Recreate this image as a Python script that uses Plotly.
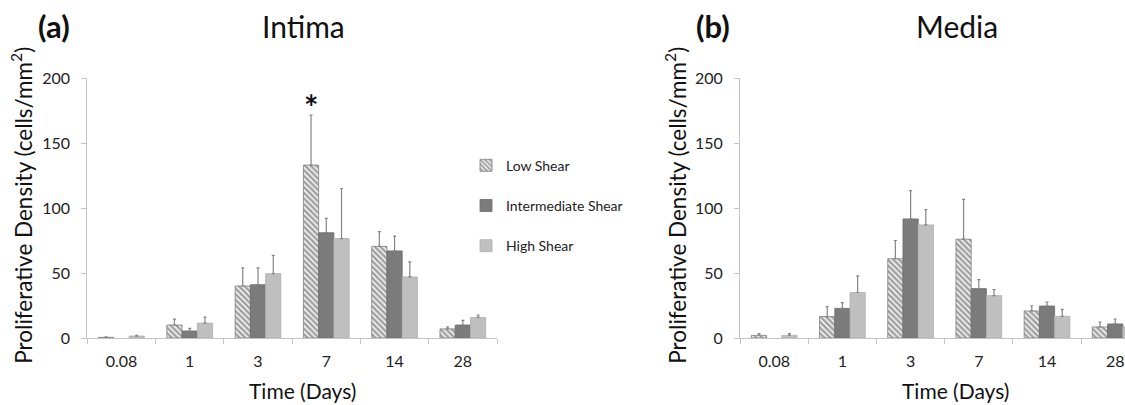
import plotly.graph_objects as go

W, H = 1125, 405

categories = ["0.08", "1", "3", "7", "14", "28"]
series = ["Low Shear", "Intermediate Shear", "High Shear"]

intima_low = [0.5, 10, 40, 133, 70.5, 7]
intima_int = [None, 5.4, 41, 81, 67, 10]
intima_high = [1.5, 11.5, 49.5, 76.5, 47, 15.8]
intima_low_err = [0.4, 4.5, 14, 38.5, 11.3, 1.5]
intima_int_err = [None, 2.0, 13, 11, 11.3, 3.5]
intima_high_err = [0.6, 4.5, 14, 38.5, 11.5, 1.9]

media_low = [2, 16.5, 61, 76, 20.8, 8.5]
media_int = [None, 22.8, 91.6, 38, 24.6, 10.8]
media_high = [2, 35, 87, 32.6, 16.7, 8.5]
media_low_err = [1.4, 7.7, 14, 30.7, 4, 3.8]
media_int_err = [None, 4.4, 21.8, 6.9, 3.1, 3.8]
media_high_err = [1.4, 12.8, 11.8, 4.6, 5.3, 3]

y_ticks = [0, 50, 100, 150, 200]

FONT = "Lato"
# pixel geometry (page coordinates)
PT, PB = 78.3, 338.3
PH = PB - PT

def px_x(p):
    return p / W

def px_y(p):
    return (PB - p) / PH

styles = [
    dict(color="#ffffff", line=dict(color="#7f7f7f", width=0.8),
         pattern=dict(shape="\\", fgcolor="#484848", bgcolor="#f2f2f2", size=4, solidity=0.55)),
    dict(color="#7b7b7b", line=dict(color="#6e6e6e", width=0.8)),
    dict(color="#bfbfbf", line=dict(color="#b0b0b0", width=0.8)),
]

fig = go.Figure()
panels = [
    ("x", "y", [intima_low, intima_int, intima_high], [intima_low_err, intima_int_err, intima_high_err], True),
    ("x2", "y2", [media_low, media_int, media_high], [media_low_err, media_int_err, media_high_err], False),
]
for xa, ya, vals, errs, show in panels:
    for i, name in enumerate(series):
        fig.add_trace(go.Bar(
            x=categories, y=vals[i], name=name, xaxis=xa, yaxis=ya,
            marker=styles[i], legendgroup=name, showlegend=show,
            error_y=dict(type="data", symmetric=False, array=errs[i],
                         arrayminus=[0 if v is not None else None for v in errs[i]],
                         color="#858585", thickness=1.2, width=1.5),
        ))

axis_common = dict(showline=True, linecolor="#c4c4c4", linewidth=1, ticks="outside",
                   tickcolor="#c4c4c4", ticklen=5, showgrid=False, zeroline=False,
                   tickfont=dict(family=FONT, size=16, color="#222222"), automargin=False)

fig.update_layout(
    width=W, height=H, plot_bgcolor="white", paper_bgcolor="white",
    margin=dict(l=0, r=0, t=PT, b=H - PB),
    barmode="group", bargap=0.33, bargroupgap=0,
    font=dict(family=FONT, color="#111111"),
    xaxis=dict(domain=[px_x(87.3), px_x(497)], range=[-0.5, 5.5], type="category",
               tickson="boundaries", ticklabelstandoff=9, anchor="y", **axis_common),
    yaxis=dict(domain=[0, 1], range=[0, 200], tickvals=y_ticks, ticklabelstandoff=8,
               anchor="x", **axis_common),
    xaxis2=dict(domain=[px_x(740.1), 1.0], range=[-0.5, 5.5 - (1149.3 - W) / 68.2],
                type="category", tickson="boundaries", ticklabelstandoff=9, anchor="y2",
                ticklabeloverflow="allow", **axis_common),
    yaxis2=dict(domain=[0, 1], range=[0, 200], tickvals=y_ticks, ticklabelstandoff=8,
                anchor="x2", **axis_common),
    legend=dict(x=px_x(466), y=px_y(150), xanchor="left", yanchor="top",
                font=dict(family=FONT, size=14, color="#222222"),
                tracegroupgap=19, bgcolor="rgba(0,0,0,0)"),
)

def pann(text, x, y, size, **kw):
    return dict(text=text, x=px_x(x), y=px_y(y), xref="paper", yref="paper",
                xanchor="center", yanchor="middle", showarrow=False,
                font=dict(family=FONT, size=size, color="#111111"), **kw)

ann = []
for label, cx in [("(a)", 54), ("(b)", 713)]:
    ann.append(pann("<b>" + label + "</b>", cx, 26, 31))
for label, cx in [("Intima", 303), ("Media", 957)]:
    ann.append(pann(label, cx, 26, 30))
for cx in [302, 955]:
    ann.append(pann("Time (Days)", cx, 391, 21))
for cx in [21, 675]:
    ann.append(pann("Proliferative Density (cells/mm<sup>2</sup>)", cx, 206, 22.5, textangle=-90))
# asterisk above low-shear bar at day 7 (category index 3)
ann.append(dict(text="<b>*</b>", x=3, y=178, xref="x", yref="y", xshift=-15.3,
                xanchor="center", yanchor="middle", showarrow=False,
                font=dict(family=FONT, size=34, color="#111111")))
fig.update_layout(annotations=ann)

fig.write_html(
    "out.html",
    config={"displayModeBar": False},
    post_script="document.body.style.margin='0';document.body.style.overflow='hidden';",
)
